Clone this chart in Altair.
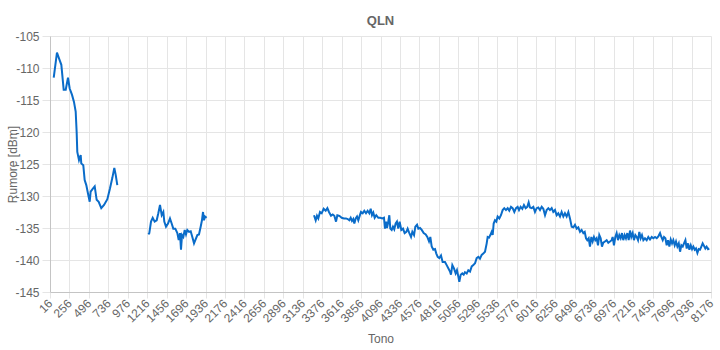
import altair as alt
import pandas as pd

# --- data (tone index, QLN in dBm) ---
tone1 = [62, 102, 136, 156, 185, 210, 238, 259, 288, 312,
         333, 345, 353, 374, 395, 402, 427, 444, 464, 485,
         506, 518, 543, 568, 592, 617, 649, 683, 724, 757,
         785, 810, 827, 847]
qln1 = [-111.5, -107.6, -108.8, -109.5, -113.4, -113.4, -111.5, -113.2, -114.2, -115.3,
        -116.8, -120.0, -123.1, -124.4, -123.6, -124.9, -125.2, -127.5, -128.3, -129.6,
        -130.9, -129.3, -128.9, -128.5, -130.6, -130.9, -131.9, -131.4, -130.5, -128.8,
        -127.2, -125.6, -126.7, -128.3]

tone2 = [1230, 1242, 1263, 1284, 1308, 1333, 1353, 1374, 1395, 1415,
         1427, 1448, 1473, 1497, 1518, 1538, 1563, 1588, 1605, 1621,
         1633, 1646, 1662, 1679, 1695, 1711, 1732, 1753, 1773, 1794,
         1810, 1835, 1855, 1876, 1892, 1905, 1917, 1929, 1950]
qln2 = [-136.0, -135.8, -134.0, -133.4, -134.0, -133.8, -132.7, -131.4, -133.0, -132.5,
        -134.0, -134.8, -134.3, -133.5, -134.3, -135.1, -135.1, -135.8, -136.9, -135.8,
        -138.4, -136.1, -136.4, -135.3, -136.0, -135.3, -135.6, -135.5, -136.4, -137.4,
        -136.9, -136.1, -136.0, -134.8, -133.8, -132.5, -133.8, -133.2, -133.4]

tone3a = [3275, 3296, 3312, 3328, 3349, 3370, 3394, 3419, 3440, 3460,
          3485, 3506, 3526, 3547, 3563, 3588, 3617, 3645, 3670, 3691,
          3711, 3728, 3744, 3760, 3773, 3790, 3806, 3822, 3839, 3855,
          3876, 3896, 3917, 3937, 3958, 3975, 3991, 4007, 4024, 4044,
          4069, 4094, 4118, 4139, 4151, 4164, 4176, 4188, 4205, 4217,
          4234, 4250, 4266, 4283, 4299, 4315, 4332, 4353, 4374, 4394,
          4415, 4431, 4452, 4473, 4489, 4510, 4526, 4547, 4563, 4584,
          4605, 4629, 4654, 4674, 4695, 4711, 4728, 4748, 4769, 4785,
          4802, 4822, 4843, 4863]
qln3a = [-133.0, -133.8, -133.1, -133.5, -132.5, -132.7, -132.0, -132.3, -131.9, -132.5,
         -133.1, -132.9, -133.1, -134.0, -133.0, -133.1, -133.4, -133.5, -133.5, -133.6,
         -133.8, -133.4, -133.9, -133.6, -134.3, -133.5, -133.2, -133.8, -133.1, -132.5,
         -132.7, -132.3, -132.7, -132.3, -132.7, -132.0, -133.0, -132.6, -133.4, -133.0,
         -133.4, -133.4, -133.5, -133.4, -135.1, -134.0, -135.0, -134.3, -133.0, -135.1,
         -135.3, -134.8, -135.2, -134.3, -134.0, -135.1, -134.0, -135.3, -135.1, -135.8,
         -135.6, -135.1, -135.8, -136.4, -135.6, -136.1, -134.8, -134.5, -135.1, -135.0,
         -135.3, -135.8, -136.0, -136.4, -137.1, -136.4, -137.9, -138.4, -138.3, -139.0,
         -139.5, -139.7, -139.3, -140.3]

tone3b = [4892, 4913, 4933, 4954, 4966, 4983, 5003, 5024, 5040, 5057,
          5069, 5086, 5106, 5123, 5139, 5160, 5180, 5201, 5222, 5242,
          5263, 5283, 5304, 5324, 5345, 5365, 5386, 5407, 5419, 5435,
          5452, 5468, 5481, 5493, 5509, 5526, 5542, 5563, 5583, 5604,
          5624, 5645, 5666, 5686, 5707, 5727, 5748, 5769, 5789, 5806,
          5826, 5847, 5867, 5888, 5908, 5925, 5941, 5962, 5983, 6003,
          6024, 6044, 6065, 6086, 6106, 6127, 6147, 6168, 6188, 6209,
          6229, 6250, 6271, 6291, 6312, 6332, 6353, 6373, 6394, 6415,
          6435, 6456]
qln3b = [-140.3, -140.8, -141.3, -141.8, -142.3, -140.8, -141.3, -142.1, -141.6, -142.6,
         -143.4, -142.3, -142.1, -142.3, -141.9, -142.1, -141.6, -141.8, -141.0, -140.8,
         -140.5, -139.7, -139.5, -139.8, -139.2, -139.0, -138.7, -137.4, -136.4, -136.5,
         -136.1, -135.6, -136.1, -134.3, -133.8, -134.0, -133.2, -133.5, -133.0, -132.2,
         -131.9, -132.2, -131.9, -132.3, -131.7, -131.9, -132.5, -131.9, -131.7, -132.2,
         -131.7, -132.0, -131.4, -131.9, -131.7, -131.0, -131.8, -131.9, -131.7, -132.5,
         -131.9, -131.8, -132.2, -131.7, -132.0, -133.0, -132.2, -131.9, -132.2, -131.9,
         -132.5, -132.2, -133.0, -132.7, -133.2, -132.5, -133.2, -132.7, -133.2, -132.5,
         -133.5, -134.8]

tone3c = [6477, 6497, 6518, 6538, 6559, 6579, 6600, 6617, 6633, 6649,
          6666, 6682, 6699, 6715, 6731, 6748, 6764, 6781, 6797, 6814,
          6830, 6846, 6867, 6888, 6908, 6929, 6949, 6962, 6978, 6995,
          7011, 7028, 7044, 7061, 7077, 7093, 7110, 7126, 7143, 7160,
          7176, 7192, 7209, 7225, 7242, 7258, 7275, 7291, 7308, 7324,
          7341, 7361, 7382, 7402, 7423, 7444, 7464, 7485, 7506, 7526,
          7547, 7563, 7580, 7596, 7613, 7629, 7646, 7662, 7679, 7695,
          7711, 7728, 7744, 7761, 7778, 7794, 7810, 7827, 7843, 7860,
          7876, 7893, 7909, 7926, 7942, 7958, 7975, 7991, 8008, 8024,
          8040, 8057, 8073, 8090, 8106, 8122, 8139, 8155]
qln3c = [-134.9, -134.5, -135.1, -134.9, -135.6, -135.3, -135.8, -135.6, -136.6, -136.9,
         -136.6, -137.9, -136.4, -137.1, -136.4, -136.9, -136.6, -137.7, -136.1, -136.6,
         -137.9, -137.3, -137.1, -136.9, -137.3, -137.1, -136.9, -136.4, -137.7, -136.4,
         -135.8, -136.9, -136.1, -136.6, -135.8, -136.9, -136.1, -136.6, -135.8, -136.9,
         -135.4, -136.4, -135.8, -136.9, -136.1, -136.4, -136.9, -135.6, -136.6, -136.1,
         -136.9, -136.6, -136.9, -136.4, -136.8, -136.4, -136.6, -136.4, -136.6, -136.3,
         -135.8, -136.4, -136.9, -136.4, -136.6, -137.7, -136.9, -137.9, -136.8, -137.4,
         -136.9, -137.7, -137.1, -137.9, -137.4, -138.7, -137.7, -137.9, -137.4, -136.9,
         -138.2, -137.4, -138.4, -137.7, -138.3, -137.9, -138.4, -138.2, -138.9, -138.3,
         -138.4, -137.9, -137.4, -137.8, -138.2, -137.9, -138.3, -138.2]

x_ticks = [16, 256, 496, 736, 976, 1216, 1456, 1696, 1936, 2176,
           2416, 2656, 2896, 3136, 3376, 3616, 3856, 4096, 4336, 4576,
           4816, 5056, 5296, 5536, 5776, 6016, 6256, 6496, 6736, 6976,
           7216, 7456, 7696, 7936, 8176]
y_ticks = [-145, -140, -135, -130, -125, -120, -115, -110, -105]

segments = [(1, tone1, qln1), (2, tone2, qln2),
            (3, tone3a + tone3b + tone3c, qln3a + qln3b + qln3c)]
rows = []
for seg, tones, vals in segments:
    assert len(tones) == len(vals), (seg, len(tones), len(vals))
    rows += [{"tono": t, "qln": v, "seg": seg} for t, v in zip(tones, vals)]
df = pd.DataFrame(rows)

FONT = "Liberation Sans"
GRID = "#e5e5e5"
TXT = "#666666"

chart = alt.Chart(df).mark_line(
    color="#0a6cc9", strokeWidth=2, interpolate="linear"
).encode(
    x=alt.X("tono:Q",
            scale=alt.Scale(domain=[16, 8176], nice=False, zero=False),
            axis=alt.Axis(title="Tono", values=x_ticks, labelAngle=-45,
                          labelAlign="right", labelBaseline="middle",
                          labelOverlap=False, labelFlush=False,
                          labelExpr="datum.value + ''",
                          tickSize=6, labelPadding=3,
                          titleY=50, titleBaseline="alphabetic")),
    y=alt.Y("qln:Q",
            scale=alt.Scale(domain=[-145, -105], nice=False, zero=False),
            axis=alt.Axis(title="Rumore [dBm]", values=y_ticks,
                          labelExpr="datum.value + ''", labelFlush=False,
                          tickSize=8, labelPadding=3,
                          titleX=-38, titleY=128, titleBaseline="middle")),
    detail="seg:N",
).properties(
    width=661, height=256,
    title=alt.TitleParams("QLN", fontSize=13, fontWeight="bold", color=TXT,
                          font=FONT, anchor="middle", offset=12, dy=20,
                          baseline="alphabetic"),
    autosize=alt.AutoSizeParams(type="none"),
    padding={"left": 50, "top": 36, "right": 9, "bottom": 58},
).configure_axis(
    gridColor=GRID, domainColor="#c4c4c4", tickColor=GRID,
    labelColor=TXT, titleColor=TXT, labelFont=FONT, titleFont=FONT,
    labelFontSize=12, titleFontSize=12, titleFontWeight="normal",
).configure_view(stroke="transparent")

chart.save("out.html", embed_options={"renderer": "svg", "actions": False})
